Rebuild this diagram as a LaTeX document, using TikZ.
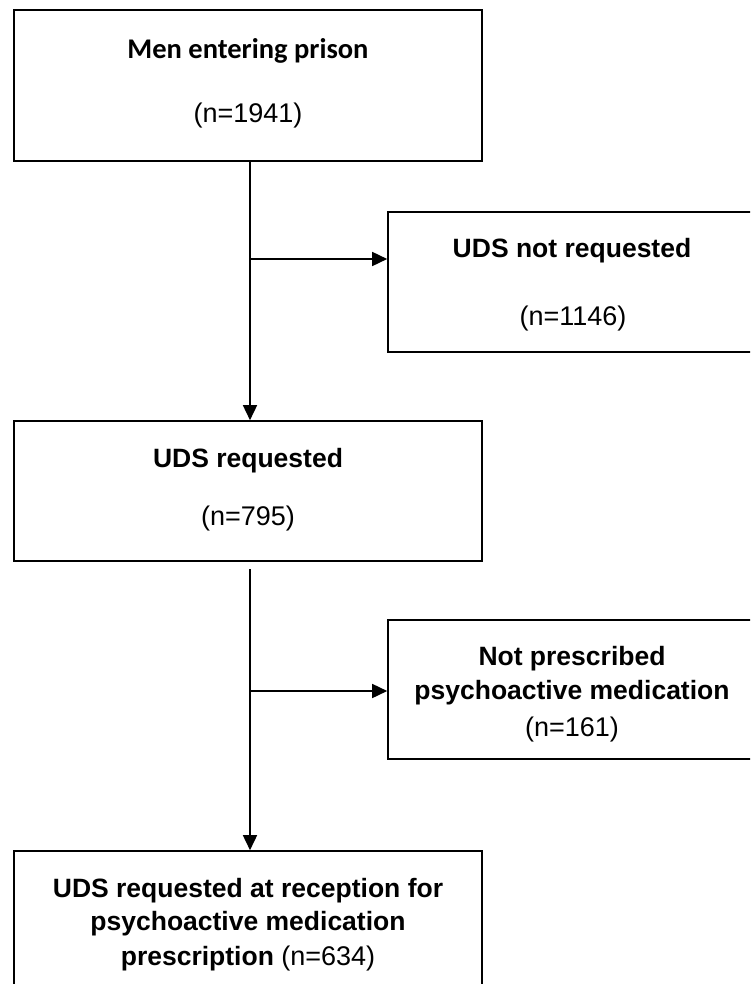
\documentclass[tikz,border=0pt]{standalone}
\usepackage{fontspec}
\setmainfont{Liberation Sans}
\newfontfamily\calfont{Carlito}
\usetikzlibrary{arrows.meta}
\begin{document}
\begin{tikzpicture}[x=1pt,y=-1pt,
  box/.style={draw=black,line width=1.6pt,rectangle,inner sep=0pt},
  txt/.style={anchor=base,inner sep=0pt,font=\fontsize{27}{30}\selectfont},
  titletxt/.style={txt,font=\fontsize{26.5}{30}\selectfont\bfseries},
  conn/.style={line width=1.6pt},
  arr/.style={conn,-{Triangle[length=15pt,width=14pt]}}]
\useasboundingbox (0,0) rectangle (750,984);
\clip (0,0) rectangle (750,984);
\fill[white] (0,0) rectangle (750,984);
% boxes
\node[box,minimum width=468pt,minimum height=151pt] (b1) at (248,85.5) {};
\node[box,minimum width=382pt,minimum height=140pt] (b2) at (579,282) {};
\node[box,minimum width=468pt,minimum height=140pt] (b3) at (248,491) {};
\node[box,minimum width=382pt,minimum height=139pt] (b4) at (579,689.5) {};
\node[box,minimum width=468pt,minimum height=142pt] (b5) at (248,922) {};
% texts
\node[txt,font=\fontsize{28.5}{30}\selectfont\calfont\bfseries] (t1a) at (248,59) {Men entering prison};
\node[txt] (t1b) at (248,123) {(n=1941)};
\node[titletxt] (t2a) at (572,257) {UDS not requested};
\node[txt] (t2b) at (573,325) {(n=1146)};
\node[titletxt] (t3a) at (248,467) {UDS requested};
\node[txt] (t3b) at (248,525) {(n=795)};
\node[titletxt] (t4a) at (572,665) {Not prescribed};
\node[titletxt] (t4b) at (572,699) {psychoactive medication};
\node[txt] (t4c) at (572,736) {(n=161)};
\node[titletxt] (t5a) at (248,897) {UDS requested at reception for};
\node[titletxt] (t5b) at (248,930) {psychoactive medication};
\node[txt] (t5c) at (248,965) {\fontsize{26.5}{30}\selectfont\textbf{prescription} \fontsize{27}{30}\selectfont(n=634)};
% connectors
\coordinate (j1) at (250,259);
\coordinate (j2) at (250,691);
\coordinate (s2) at (250,569);
\draw[arr] (j1 |- b1.south) -- (j1 |- b3.north);
\draw[arr] (j1) -- (j1 -| b2.west);
\draw[arr] (s2) -- (s2 |- b5.north);
\draw[arr] (j2) -- (j2 -| b4.west);
\end{tikzpicture}
\end{document}
